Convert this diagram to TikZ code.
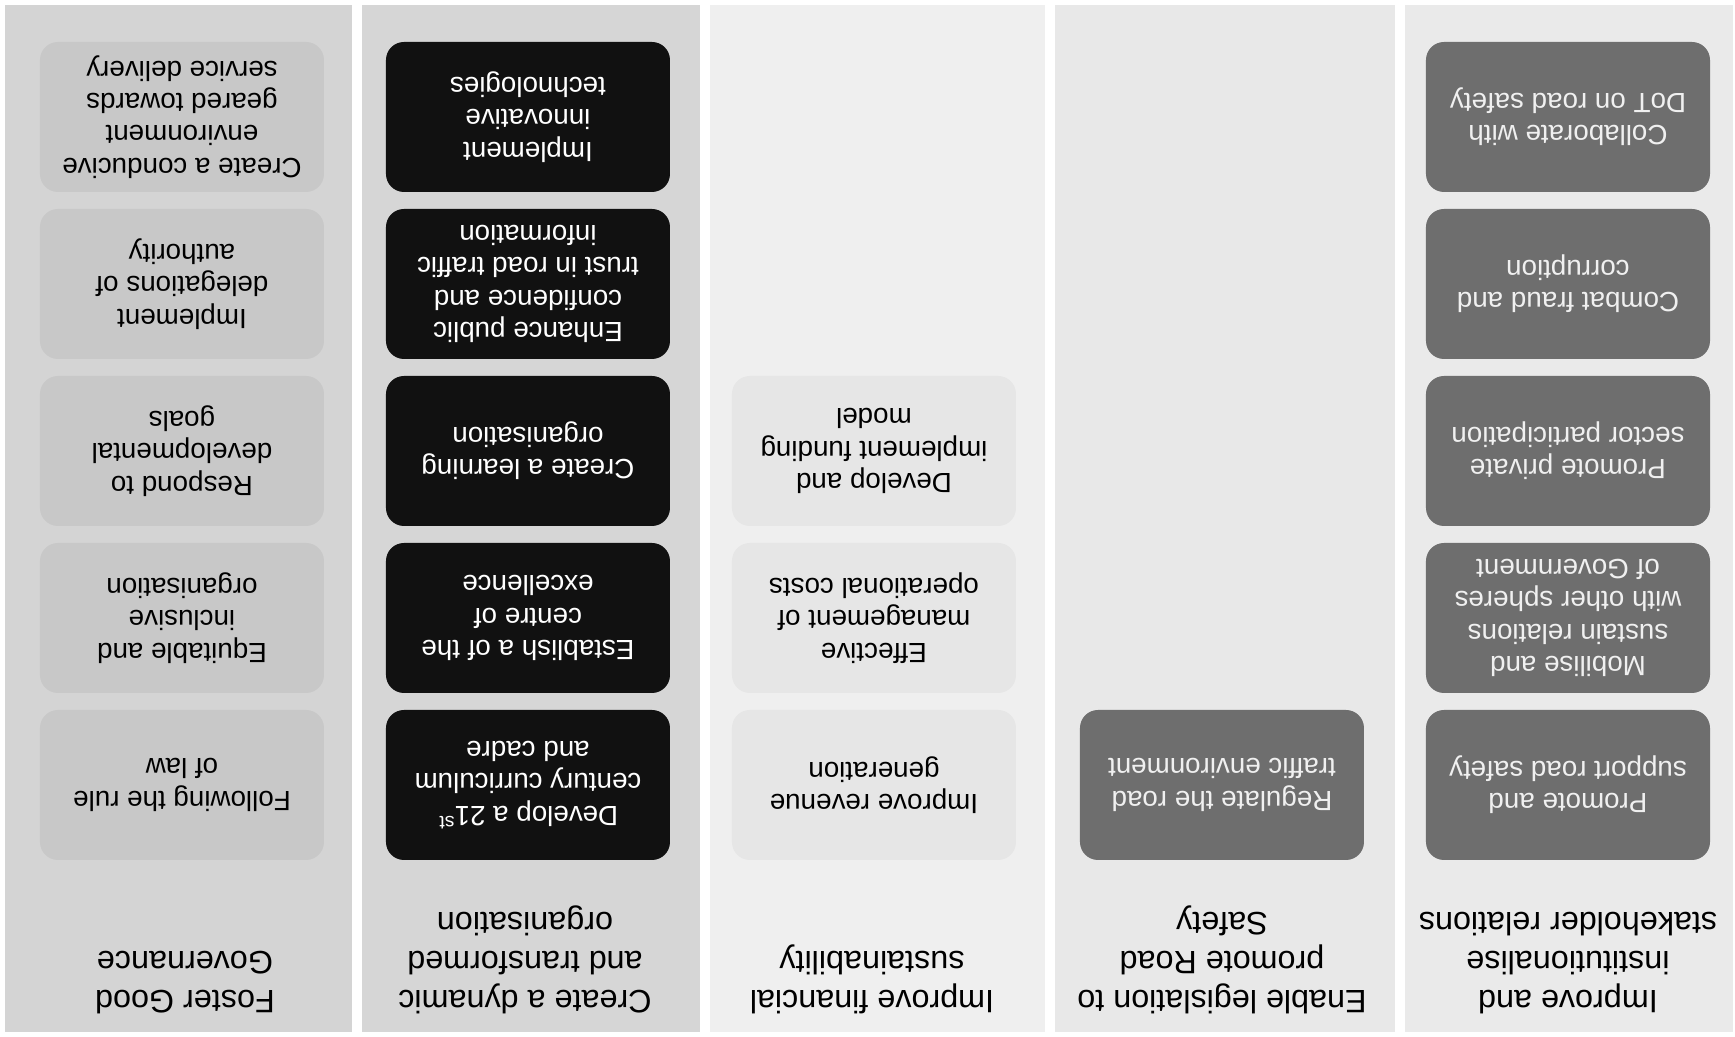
\documentclass[tikz,border=0pt]{standalone}
\usepackage{fontspec}
\setmainfont{Liberation Sans}
\usepackage{xcolor}
\usepackage{tikz}
\definecolor{panelone}{HTML}{D4D4D4}
\definecolor{paneltwo}{HTML}{D6D6D6}
\definecolor{panelthree}{HTML}{EFEFEF}
\definecolor{panelfour}{HTML}{E8E8E8}
\definecolor{panelfive}{HTML}{EAEAEA}
\definecolor{softbox}{HTML}{C8C8C8}
\definecolor{paperbox}{HTML}{E6E6E6}
\definecolor{inkbox}{HTML}{111111}
\definecolor{greybox}{HTML}{6E6E6E}
\definecolor{greytext}{HTML}{F0F0F0}

\begin{document}
\begin{tikzpicture}[rotate=180, transform shape, node distance = 1.67cm]
        \tikzset{panel/.style={fill=#1, draw=none}}
        \tikzset{goal node/.style={align=center, inner sep=0pt, anchor=north, font=\fontsize{9.2}{11.1}\selectfont}}
        \tikzset{main node/.style={rounded corners=0.18cm, minimum width=2.84cm, minimum height=1.5cm, inner sep=2pt, align=center, font=\fontsize{7.9}{9.2}\selectfont}}
        \tikzset{soft node/.style={main node, fill=softbox}}
        \tikzset{paper node/.style={main node, fill=paperbox}}
        \tikzset{ink node/.style={main node, fill=inkbox, text=white}}
        \tikzset{grey node/.style={main node, fill=greybox, text=greytext}}

        \useasboundingbox (0,0) rectangle (17.35,-10.37);

        % Panels
        \fill[panel=panelfive] (0.02,-0.05) rectangle (3.30,-10.32);
        \fill[panel=panelfour] (3.40,-0.05) rectangle (6.80,-10.32);
        \fill[panel=panelthree] (6.90,-0.05) rectangle (10.25,-10.32);
        \fill[panel=paneltwo] (10.35,-0.05) rectangle (13.73,-10.32);
        \fill[panel=panelone] (13.83,-0.05) rectangle (17.30,-10.32);

        % Headings
        \node (stakeholder) [goal node] at (1.67,-0.22) {Improve and\\institutionalise\\stakeholder relations};
        \node (legislation) [goal node] at (5.13,-0.22) {Enable legislation to\\promote Road\\Safety};
        \node (financial) [goal node] at (8.63,-0.22) {Improve financial\\sustainability};
        \node (dynamic) [goal node] at (12.10,-0.22) {Create a dynamic\\and transformed\\organisation};
        \node (governance) [goal node] at (15.50,-0.22) {Foster Good\\Governance};

        % Stakeholder relations
        \node (support) [grey node] at (1.67,-2.52) {Promote and\\support road safety};
        \node (mobilise) [grey node, below of=support] {Mobilise and\\sustain relations\\with other spheres\\of Government};
        \node (private) [grey node, below of=mobilise] {Promote private\\sector participation};
        \node (fraud) [grey node, below of=private] {Combat fraud and\\corruption};
        \node (collaborate) [grey node, below of=fraud] {Collaborate with\\DoT on road safety};

        % Legislation
        \node (regulate) [grey node] at (5.13,-2.52) {Regulate the road\\traffic environment};

        % Financial sustainability
        \node (revenue) [paper node] at (8.61,-2.52) {Improve revenue\\generation};
        \node (costs) [paper node, below of=revenue] {Effective\\management of\\operational costs};
        \node (funding) [paper node, below of=costs] {Develop and\\implement funding\\model};

        % Dynamic organisation
        \node (curriculum) [ink node] at (12.07,-2.52) {Develop a 21\textsuperscript{st}\\century curriculum\\and cadre};
        \node (excellence) [ink node, below of=curriculum] {Establish a of the\\centre of\\excellence};
        \node (learning) [ink node, below of=excellence] {Create a learning\\organisation};
        \node (confidence) [ink node, below of=learning] {Enhance public\\confidence and\\trust in road traffic\\information};
        \node (technologies) [ink node, below of=confidence] {Implement\\innovative\\technologies};

        % Good governance
        \node (law) [soft node] at (15.53,-2.52) {Following the rule\\of law};
        \node (equitable) [soft node, below of=law] {Equitable and\\inclusive\\organisation};
        \node (respond) [soft node, below of=equitable] {Respond to\\developmental\\goals};
        \node (delegations) [soft node, below of=respond] {Implement\\delegations of\\authority};
        \node (conducive) [soft node, below of=delegations] {Create a conducive\\environment\\geared towards\\service delivery};
\end{tikzpicture}
\end{document}
